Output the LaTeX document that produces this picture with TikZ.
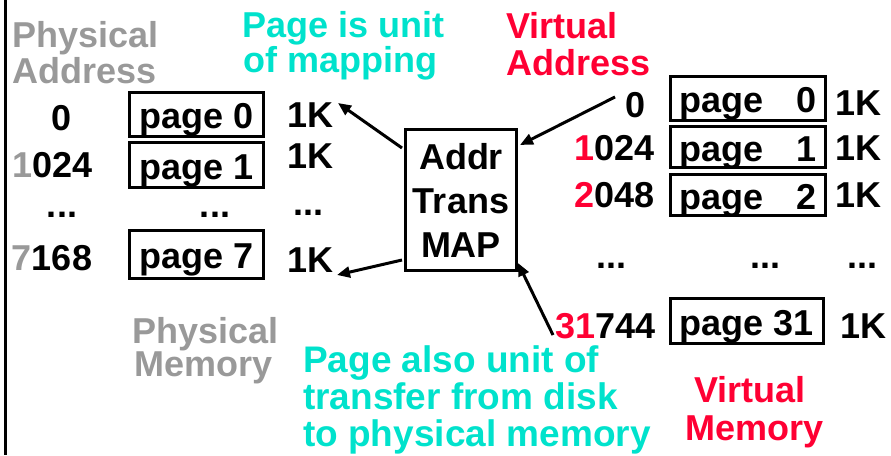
\documentclass[tikz,border=0pt]{standalone}
\usepackage{fontspec}
\setmainfont{Liberation Sans}
\usetikzlibrary{arrows.meta}
\definecolor{tealtxt}{RGB}{0,226,204}
\definecolor{redtxt}{RGB}{255,0,51}
\definecolor{graytxt}{RGB}{153,153,153}
\tikzset{
  lbl/.style={inner sep=0pt, font=\bfseries\fontsize{36}{37}\selectfont},
  note/.style={inner sep=0pt, tealtxt, font=\bfseries\fontsize{37}{38}\selectfont},
  pagebox/.style={draw, line width=3pt, inner sep=0pt,
    text height=32pt, text depth=4pt,
    font=\bfseries\fontsize{36}{37}\selectfont},
  mapbox/.style={draw, line width=3pt, inner sep=0pt, align=center,
    minimum width=111pt, minimum height=141pt,
    font=\bfseries\fontsize{36}{44}\selectfont},
  arr/.style={line width=3pt, -{Triangle[length=13pt,width=11pt]}},
}
\begin{document}
\begin{tikzpicture}[x=1pt,y=-1pt]
\useasboundingbox (0,0) rectangle (891,455);

% left rule
\draw[line width=2.5pt] (5.5,0) -- (5.5,455);

% ---- physical side ----
\node[lbl, graytxt, anchor=base west] (pa1) at (12,47) {Physical};
\node[lbl, graytxt, anchor=base west] (pa2) at (12,83) {Address};

\node[lbl, anchor=base] (pn0) at (61.5,130) {0};
\node[lbl, anchor=base] (pn1) at (52.5,177) {\textcolor{graytxt}{1}024};
\node[lbl, anchor=base] (pnd) at (62,217) {...};
\node[lbl, anchor=base] (pn7) at (52,270) {\textcolor{graytxt}{7}168};

\node[pagebox, minimum width=134pt, minimum height=44pt] (pp0) at (196.5,114) {page 0};
\node[pagebox, minimum width=134pt, minimum height=45pt] (pp1) at (196.5,165) {page 1};
\node[lbl, anchor=base] (ppd) at (215,217) {...};
\node[pagebox, minimum width=134pt, minimum height=48pt] (pp7) at (196.5,254) {page 7};

\node[lbl, anchor=base west] (pk0) at (287,127) {1K};
\node[lbl, anchor=base west] (pk1) at (287,168) {1K};
\node[lbl, anchor=base west] (pkd) at (293,215) {...};
\node[lbl, anchor=base west] (pk7) at (287,272) {1K};

\node[lbl, graytxt, anchor=base] (pm1) at (205.5,343) {Physical};
\node[lbl, graytxt, anchor=base] (pm2) at (204,376) {Memory};

% ---- notes ----
\node[lbl, tealtxt, anchor=base west] (n1a) at (242,37) {Page is unit};
\node[lbl, tealtxt, anchor=base west] (n1b) at (243,72) {of mapping};
\node[note, anchor=base west] (n2a) at (303,372) {Page also unit of};
\node[note, anchor=base west] (n2b) at (303,409) {transfer from disk};
\node[note, anchor=base west] (n2c) at (303,446) {to physical memory};

% ---- translation map ----
\node[mapbox] (map) at (461,200) {Addr\\Trans\\MAP};

% ---- virtual side ----
\node[lbl, redtxt, anchor=base west] (va1) at (506,38) {Virtual};
\node[lbl, redtxt, anchor=base west] (va2) at (506,75) {Address};

\node[lbl, anchor=base east] (vn0) at (646,117) {0};
\node[lbl, anchor=base east] (vn1) at (655,160) {\textcolor{redtxt}{1}024};
\node[lbl, anchor=base east] (vn2) at (655,207) {\textcolor{redtxt}{2}048};
\node[lbl, anchor=base east] (vnd) at (627,268) {...};
\node[lbl, anchor=base east] (vn31) at (656,338) {\textcolor{redtxt}{31}744};

\node[pagebox, minimum width=155pt, minimum height=44pt] (vp0) at (748,98.5) {\makebox[137pt]{page\hfill 0}};
\node[pagebox, minimum width=155pt, minimum height=41pt] (vp1) at (748,147) {\makebox[137pt]{page\hfill 1}};
\node[pagebox, minimum width=155pt, minimum height=41pt] (vp2) at (748,195) {\makebox[137pt]{page\hfill 2}};
\node[lbl, anchor=base west] (vpd) at (750,268) {...};
\node[pagebox, minimum width=153pt, minimum height=45pt] (vp31) at (747,321) {page 31};

\node[lbl, anchor=base west] (vk0) at (835,115) {1K};
\node[lbl, anchor=base west] (vk1) at (835,160) {1K};
\node[lbl, anchor=base west] (vk2) at (835,207) {1K};
\node[lbl, anchor=base west] (vkd) at (847,268) {...};
\node[lbl, anchor=base west] (vk31) at (840,338) {1K};

\node[lbl, redtxt, anchor=base] (vm1) at (750,402) {Virtual};
\node[lbl, redtxt, anchor=base] (vm2) at (755,440) {Memory};

% ---- arrows ----
\coordinate (mapA) at (402,148);
\coordinate (mapB) at (402,260);
\coordinate (mapC) at (520,145);
\coordinate (mapD) at (518,263);
\coordinate (tipA) at (338,103);
\coordinate (tipB) at (337,275);
\coordinate (srcC) at (615,97);
\coordinate (srcD) at (553,335);

\draw[arr] (mapA) -- (tipA);
\draw[arr] (mapB) -- (tipB);
\draw[arr] (srcC) -- (mapC);
\draw[arr] (srcD) -- (mapD);
\end{tikzpicture}
\end{document}
